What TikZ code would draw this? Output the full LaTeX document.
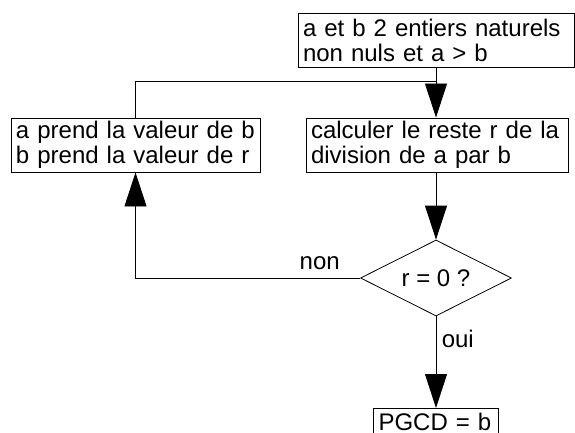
\documentclass[tikz,border=0pt]{standalone}
\usepackage{fontspec}
\setmainfont{Liberation Sans}
\usetikzlibrary{arrows.meta,shapes.geometric,positioning}

\begin{document}
\begin{tikzpicture}[x=1pt, y=-1pt,
        Algo/.style={rectangle, draw, line width=0.9pt, inner xsep=5pt, inner ysep=0pt, minimum height=54pt, align=left, font=\fontsize{24}{25}\selectfont},  % boites de l'algorigramme
        Choix/.style={diamond, draw, line width=0.8pt, inner sep=0pt, aspect=2, minimum width=151pt, minimum height=76pt, font=\fontsize{24}{25}\selectfont},
        Fleche/.style={-{Triangle[length=34pt, width=22pt]}, line width=0.9pt},
        Label/.style={font=\fontsize{24}{25}\selectfont},
    ]
        \clip (0,0) rectangle (575,433);
        \useasboundingbox (0,0) rectangle (575,433);

        %Nodes
        \node[Algo, text width=266pt] (Donnees) at (436,40) {a et b 2 entiers naturels\\non nuls et a > b};
        \node[Algo, text width=252pt] (Reste) at (437,145) {calculer le reste r de la\\division de a par b};
        \node[Algo, text width=239pt] (Echange) at (135.5,145) {a prend la valeur de b\\b prend la valeur de r};
        \node[Choix] (Test) at (436,278) {r = 0 ?};
        \node[Algo, text width=115pt, minimum height=0pt, inner ysep=5pt, anchor=north] (PGCD) at (436,408) {PGCD = b};
        \coordinate (Retour) at (Donnees.south |- 0,81);

        %Lines
        \draw[Fleche] (Donnees.south) -- (Reste.north -| Donnees.south);
        \draw[Fleche] (Reste.south -| Test.north) -- (Test.north);
        \draw[Fleche] (Test.west) -| node[Label, above, pos=0.09, yshift=4pt] {non} (Echange.south);
        \draw[line width=0.9pt] (Echange.north) |- (Retour);
        \draw[Fleche] (Test.south) -- node[Label, right, pos=0.25, xshift=2pt] {oui} (PGCD.north);
    \end{tikzpicture}
\end{document}
